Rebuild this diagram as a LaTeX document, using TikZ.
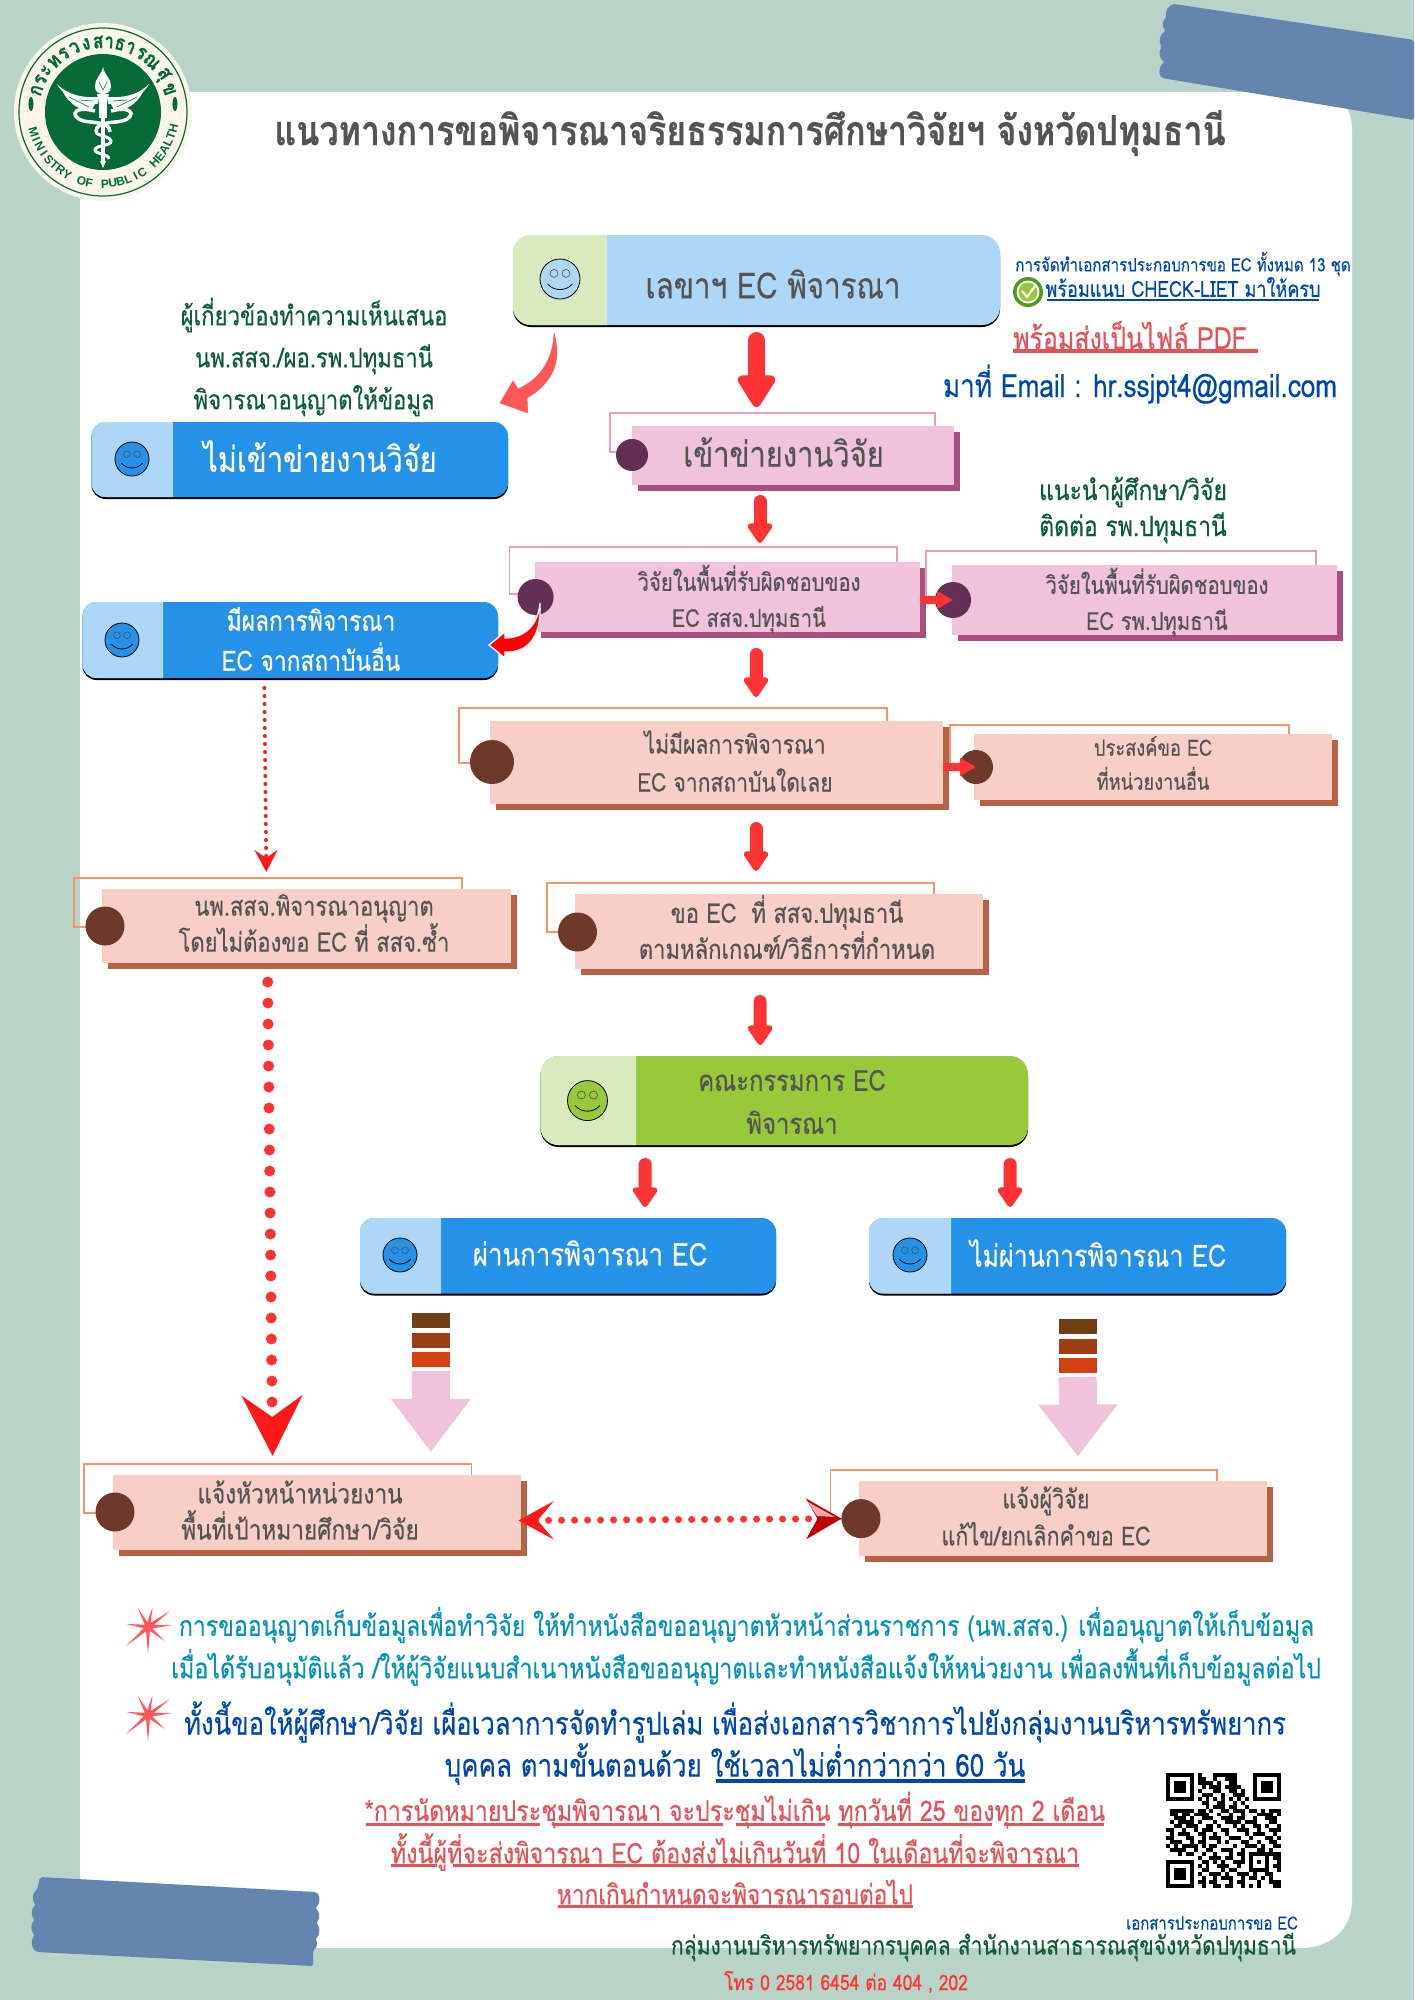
\documentclass[tikz,border=0pt]{standalone}
\usepackage{fontspec}
\usetikzlibrary{arrows.meta}
\setmainfont[Script=Thai, FakeStretch=0.82, FakeBold=0.35]{Loma}
\newfontfamily\logolatin{Liberation Sans}
\newcommand{\fs}[2]{\fontsize{#1}{#2}\selectfont}
\definecolor{pagegreen}{HTML}{B8D4C8}
\definecolor{tapeblue}{HTML}{6485B0}
\definecolor{inkgray}{HTML}{545454}
\definecolor{inkgreen}{HTML}{0E5C38}
\definecolor{inkblue}{HTML}{0047AB}
\definecolor{inkteal}{HTML}{0693B5}
\definecolor{inkred}{HTML}{E2535A}
\definecolor{arrowred}{HTML}{FF3333}
\definecolor{dartred}{HTML}{FF1A1A}
\definecolor{salmonarrow}{HTML}{FF5757}
\definecolor{logogreen}{HTML}{056A38}
\definecolor{logocream}{HTML}{FBF6E9}
\definecolor{tabblue}{HTML}{2592E9}
\definecolor{tabsky}{HTML}{AED6F7}
\definecolor{tablime}{HTML}{98C93A}
\definecolor{tabpale}{HTML}{D9EABF}
\definecolor{cream}{HTML}{FFFDF0}
\definecolor{pinkface}{HTML}{F0C2DC}
\definecolor{pinkedge}{HTML}{E99CC0}
\definecolor{pinkshade}{HTML}{AA5080}
\definecolor{pinkdot}{HTML}{642F55}
\definecolor{salmonface}{HTML}{F8CFC7}
\definecolor{salmonedge}{HTML}{F4956F}
\definecolor{salmonshade}{HTML}{B86245}
\definecolor{salmondot}{HTML}{6E392B}
\definecolor{stripeA}{HTML}{733E15}
\definecolor{stripeB}{HTML}{9E3E14}
\definecolor{stripeC}{HTML}{D54115}
\definecolor{checkgreen}{HTML}{4C9A1F}
\tikzset{
    stepdot/.style={circle, minimum size=#1, inner sep=0pt, outer sep=0pt},
    flowtext/.style={align=center, inner sep=0pt, text=inkgray},
    whitetext/.style={align=center, inner sep=0pt, text=cream},
    redarrow/.style={draw=arrowred, line width=#1, line cap=round},
    dotlink/.style={draw=#1, line cap=round},
    pinkarrow/.style={draw=pinkface, line width=38pt},
    ruleline/.style={line width=#1}
}
\begin{document}
\begin{tikzpicture}[x=1pt, y=-1pt]
    \useasboundingbox (0, 0) rectangle (1414, 2000);
    \fill[pagegreen] (0, 0) rectangle (1414, 2000);
    \fill[white] (80, 92) -- (1320, 92) .. controls (1342, 92) and (1352, 110) .. (1352, 130)
        -- (1352, 1900) .. controls (1352, 1930) and (1330, 1948) .. (1300, 1948) -- (80, 1948) -- cycle;

    \fill[tapeblue, rounded corners=2pt] (1174, 4) -- (1414, 40) -- (1414, 120) -- (1162, 78)
        to[bend left=50] (1165, 62) to[bend left=50] (1162, 47) to[bend left=50] (1166, 31)
        to[bend left=50] (1167, 17) to[bend left=50] (1174, 4);
    \fill[tapeblue, rounded corners=2pt] (40, 1877) -- (316, 1892)
        to[bend left=50] (315, 1908) to[bend left=50] (316, 1923) to[bend left=50] (315, 1939)
        to[bend left=50] (313, 1950) -- (313, 1966) -- (37, 1952)
        to[bend left=50] (35, 1935) to[bend left=50] (35, 1920) to[bend left=50] (36, 1905)
        to[bend left=50] (37, 1890) -- cycle;

    \node[circle, fill=logocream, minimum size=178pt, inner sep=0pt] (logo) at (103, 112) {};
    \draw[logogreen, line width=1.2pt] (logo.center) circle [radius=84];
    \fill[logogreen] (logo.center) circle [radius=58];
    \foreach \ang/\ch in {162/ก,153/ร,144/ะ,134/ท,124/ร,114/ว,104/ง,94/ส,85/า,76/ธ,67/า,57/ร,46/ณ,32/สุ,19/ข} {
        \path (logo.center) ++(\ang:70pt) node[rotate=\ang-90, text=logogreen, inner sep=0pt, font=\fs{21}{21}\bfseries] (thai\ang) {\ch};
    }
    \foreach \ch [count=\i] in {M,I,N,I,S,T,R,Y,{},O,F,{},P,U,B,L,I,C,{},H,E,A,L,T,H} {
        \pgfmathsetmacro{\ang}{196+(\i-1)*6.3}
        \path (logo.center) ++(\ang:72pt) node[rotate=\ang+90, text=logogreen, inner sep=0pt, font=\logolatin\fs{12}{12}\bfseries] (eng\i) {\ch};
    }
    \foreach \s in {-1, 1} {
        \begin{scope}[shift={(103, 112)}, xscale=\s]
            \fill[logogreen] (72, -8) ellipse [x radius=2.5, y radius=7];
            \fill[white] (46, -28) .. controls (38, -14) and (26, -9) .. (5, -8) -- (5, -15)
                .. controls (18, -14) and (34, -16) .. (46, -28) -- cycle;
            \fill[white] (40, -20) .. controls (34, -8) and (22, -1) .. (12, -1) -- (8, -8) -- cycle;
            \draw[logogreen, line width=.6pt] (34, -15) -- (14, -5) (24, -12) -- (10, -11);
            \draw[white, line width=3.5pt] (8, -1) .. controls (34, -8) and (34, 9) .. (12, 10)
                .. controls (0, 11) and (-8, 14) .. (-7, 20);
        \end{scope}
    }
    \begin{scope}[shift={(103, 112)}]
        \fill[white] (0, -45) .. controls (1, -38) and (9, -32) .. (8, -25)
            .. controls (8, -20) and (4, -18) .. (0, -18) .. controls (-4, -18) and (-8, -20) .. (-8, -25)
            .. controls (-9, -32) and (-1, -38) .. (0, -45) -- cycle;
        \fill[white] (-6, -18) -- (6, -18) -- (3.5, -8) -- (-3.5, -8) -- cycle;
        \fill[white] (-4, -8) rectangle (4, 6);
        \fill[white] (-2, 6) rectangle (2, 50);
        \fill[white] (0, 56) -- (-3, 49) -- (3, 49) -- cycle;
        \draw[white, line width=3pt] (-7, 20) .. controls (-6, 24) and (7, 24) .. (8, 29)
            .. controls (9, 34) and (-8, 33) .. (-8, 38) .. controls (-8, 42) and (6, 42) .. (6, 47);
        \draw[logogreen, line width=.6pt] (-4, -30) -- (0, -22) -- (4, -30);
    \end{scope}

    \node[text=inkgray, inner sep=0pt, font=\fs{41.4}{42}\bfseries] (title) at (750, 133) {แนวทางการขอพิจารณาจริยธรรมการศึกษาวิจัยฯ จังหวัดปทุมธานี};

    \foreach \nm/\lc/\rc/\bl/\bt/\br/\bb/\dv/\rad/\cx/\cy/\cr in {
        secretary/tabpale/tabsky/513/235/1000/325/607/18/560/279/20,
        outside/tabsky/tabblue/91.5/422/508/497/173/14/132/459/17,
        hasresult/tabsky/tabblue/82.5/602/498/678/163/14/122/640/17,
        board/tabpale/tablime/540.5/1056/1028/1145/636/18/587.5/1100.6/20,
        pass/tabsky/tabblue/360/1218/776/1293.5/441/14/400/1255/17,
        fail/tabsky/tabblue/869/1218/1286/1293.5/951/14/910/1255/17} {
        \pgfmathsetmacro{\bw}{\br-\bl}
        \pgfmathsetmacro{\bh}{\bb-\bt}
        \fill[black, rounded corners=\rad pt] (\bl, \bt+2) rectangle (\br, \bb+2);
        \node[fill=\rc, rounded corners=\rad pt, minimum width=\bw pt, minimum height=\bh pt, inner sep=0pt, outer sep=0pt] (\nm) at ({(\bl+\br)/2}, {(\bt+\bb)/2}) {};
        \begin{scope}
            \clip (\bl, \bt) rectangle (\dv, \bb);
            \fill[\lc, rounded corners=\rad pt] (\bl, \bt) rectangle (\dv+40, \bb);
        \end{scope}
        \node[circle, fill=\rc, draw=black, line width=.8pt, minimum size=2*\cr pt, inner sep=0pt] (\nm face) at (\cx, \cy) {};
        \begin{scope}[shift={(\cx, \cy)}]
            \draw[black!70, fill=\rc, line width=.6pt] ({-.3*\cr}, {-.28*\cr}) circle [radius=.2*\cr];
            \draw[black!70, fill=\rc, line width=.6pt] ({.3*\cr}, {-.28*\cr}) circle [radius=.2*\cr];
            \draw[black, line width=.8pt] ({-.62*\cr}, {.25*\cr}) .. controls ({-.3*\cr}, {.62*\cr}) and ({.3*\cr}, {.62*\cr}) .. ({.62*\cr}, {.25*\cr});
        \end{scope}
    }

    \foreach \nm/\pal/\bl/\bt/\br/\bb/\fl/\ft/\fr/\fb/\cx/\cy/\cr in {
        inside/pink/632/426/954/485/610/413/935/452/632/455/16,
        ssjarea/pink/535/562/920/632/509.5/547/897/594/535.6/597/18,
        hosparea/pink/952/565/1337/635/926/551/1316/597/953/600/18,
        noresult/salmon/490/721/943/804/459/708/887/763/492/762/22,
        otherunit/salmon/974/734/1332/800/950/725/1289/767/976/767/17,
        approve/salmon/102/889/511/963/74/878/462/927/105/926/19.5,
        apply/salmon/575/894/983/969/547/883/934/932/577.5/932/19.5,
        headnotice/salmon/112.7/1475/521/1550/84/1464/471.6/1513/115/1512/19.5,
        fixnotice/salmon/859/1481/1267/1556/830.5/1470/1217/1519/861/1518.6/19.5} {
        \pgfmathsetmacro{\bw}{\br-\bl}
        \pgfmathsetmacro{\bh}{\bb-\bt}
        \draw[\pal edge, line width=1.2pt] (\fl, \ft) rectangle (\fr, \fb);
        \fill[\pal shade] (\bl+6, \bt+6) rectangle (\br+6, \bb+6);
        \node[fill=\pal face, minimum width=\bw pt, minimum height=\bh pt, inner sep=0pt, outer sep=0pt] (\nm) at ({(\bl+\br)/2}, {(\bt+\bb)/2}) {};
        \node[stepdot=2*\cr pt, fill=\pal dot] (\nm dot) at (\cx, \cy) {};
    }

    \node[flowtext, font=\fs{36}{36}] (secretarytext) at (773, 284) {เลขาฯ EC พิจารณา};
    \node[inner sep=0pt, text=inkgreen, align=center, font=\fs{27}{42}] (advicetext) at (314, 357) {ผู้เกี่ยวข้องทำความเห็นเสนอ\\นพ.สสจ./ผอ.รพ.ปทุมธานี\\พิจารณาอนุญาตให้ข้อมูล};
    \node[whitetext, font=\fs{35.4}{36}] (outsidetext) at (320, 456) {ไม่เข้าข่ายงานวิจัย};
    \node[flowtext, font=\fs{35.5}{36}] (insidetext) at (783.5, 452) {เข้าข่ายงานวิจัย};
    \node[inner sep=0pt, text=inkgreen, align=center, font=\fs{28}{36}] (contacttext) at (1133, 510) {แนะนำผู้ศึกษา/วิจัย\\ติดต่อ รพ.ปทุมธานี};
    \node[flowtext, font=\fs{24.7}{36}] (ssjareatext) at (749, 599) {วิจัยในพื้นที่รับผิดชอบของ\\EC สสจ.ปทุมธานี};
    \node[flowtext, font=\fs{24.7}{36}] (hospareatext) at (1157, 602) {วิจัยในพื้นที่รับผิดชอบของ\\EC รพ.ปทุมธานี};
    \node[whitetext, font=\fs{27.8}{40}] (hasresulttext) at (311, 639) {มีผลการพิจารณา\\EC จากสถาบันอื่น};
    \node[flowtext, font=\fs{25.8}{38}] (noresulttext) at (735, 761) {ไม่มีผลการพิจารณา\\EC จากสถาบันใดเลย};
    \node[flowtext, font=\fs{22.3}{34}] (otherunittext) at (1153, 763) {ประสงค์ขอ EC\\ที่หน่วยงานอื่น};
    \node[flowtext, font=\fs{26.8}{36}] (approvetext) at (314, 923) {นพ.สสจ.พิจารณาอนุญาต\\โดยไม่ต้องขอ EC ที่ สสจ.ซ้ำ};
    \node[flowtext, font=\fs{26.9}{36}] (applytext) at (787, 927) {ขอ EC ~ที่ สสจ.ปทุมธานี\\ตามหลักเกณฑ์/วิธีการที่กำหนด};
    \node[flowtext, font=\fs{29}{43}] (boardtext) at (792, 1102) {คณะกรรมการ EC\\พิจารณา};
    \node[whitetext, font=\fs{31.5}{32}] (passtext) at (590, 1253) {ผ่านการพิจารณา EC};
    \node[whitetext, font=\fs{30.5}{32}] (failtext) at (1098, 1253) {ไม่ผ่านการพิจารณา EC};
    \node[flowtext, font=\fs{27.6}{36}] (headnoticetext) at (300, 1510) {แจ้งหัวหน้าหน่วยงาน\\พื้นที่เป้าหมายศึกษา/วิจัย};
    \node[flowtext, font=\fs{26.3}{37}] (fixnoticetext) at (1046, 1516) {แจ้งผู้วิจัย\\แก้ไข/ยกเลิกคำขอ EC};

    \node[inner sep=0pt, text=inkblue, font=\fs{18.4}{19}] (sheettext) at (1183, 264) {การจัดทำเอกสารประกอบการขอ EC ทั้งหมด 13 ชุด};
    \node[circle, fill=checkgreen, minimum size=30pt, inner sep=0pt] (checkmark) at (1028, 292) {};
    \fill[white] (checkmark.center) circle [radius=11.5];
    \fill[tablime] (checkmark.center) circle [radius=9.5];
    \draw[white, line width=2pt] (1022, 291) -- (1027, 297) -- (1035, 286);
    \node[inner sep=0pt, text=inkblue, font=\fs{22}{22}] (checklisttext) at (1183, 287) {พร้อมแนบ CHECK-LIET มาให้ครบ};
    \draw[inkblue, ruleline=2pt] (1047, 300) -- (1319, 300);
    \node[inner sep=0pt, text=inkred, font=\fs{30.4}{31}] (pdftext) at (1130, 335) {พร้อมส่งเป็นไฟล์ PDF};
    \draw[inkred, ruleline=3.5pt] (1013, 351) -- (1258, 351);
    \node[inner sep=0pt, text=inkblue, font=\fs{31.8}{32}] (emailtext) at (1140, 384) {มาที่ Email : hr.ssjpt4@gmail.com};

    \draw[redarrow=17pt, -{Triangle[length=36pt, width=42pt, round]}, shorten <=15.5pt, shorten >=19pt] (secretary.south) -- ([shift={(-36.5, 0)}]inside.north);
    \draw[redarrow=13pt, -{Triangle[length=22pt, width=28pt, round]}, shorten <=16.5pt, shorten >=19pt] ([shift={(-33, 0)}]inside.south) -- ([shift={(32.5, 0)}]ssjarea.north);
    \draw[redarrow=13pt, -{Triangle[length=22pt, width=28pt, round]}, shorten <=22.5pt, shorten >=24pt] ([shift={(28.5, 0)}]ssjarea.south) -- ([shift={(39.5, 0)}]noresult.north);
    \draw[redarrow=13pt, -{Triangle[length=22pt, width=28pt, round]}, shorten <=24.5pt, shorten >=23pt] ([shift={(39.5, 0)}]noresult.south) -- ([shift={(-23, 0)}]apply.north);
    \draw[redarrow=13pt, -{Triangle[length=22pt, width=28pt, round]}, shorten <=32.5pt, shorten >=11pt] ([shift={(-19, 0)}]apply.south) -- ([shift={(-24, 0)}]board.north);
    \draw[redarrow=13pt, -{Triangle[length=22pt, width=28pt, round]}, shorten <=19.5pt, shorten >=11pt] ([shift={(-139, 0)}]board.south) -- ([shift={(77, 0)}]pass.north);
    \draw[redarrow=13pt, -{Triangle[length=22pt, width=28pt, round]}, shorten <=19.5pt, shorten >=11pt] ([shift={(226, 0)}]board.south) -- ([shift={(-67.5, 0)}]fail.north);
    \draw[redarrow=8pt, line cap=butt, -{Triangle[length=16pt, width=17pt]}] (ssjarea.east |- hospareadot) -- (hospareadot.center);
    \draw[redarrow=8pt, line cap=butt, -{Triangle[length=16pt, width=17pt]}] (noresult.east |- otherunitdot) -- (otherunitdot.center);

    \fill[salmonarrow, draw=salmonarrow, line join=round] ([shift={(41, 8)}]secretary.south west)
        .. controls (562, 360) and (554, 382) .. (527, 398) -- (528, 413)
        -- ([shift={(-8, -19)}]outside.north east) -- (513, 381) -- (518, 389)
        .. controls (538, 380) and (553, 362) .. (554, 333) -- cycle;
    \fill[red, draw=white, line width=1.2pt, line join=miter] ([shift={(5, -29)}]ssjarea.south west)
        .. controls (542, 640) and (525, 653) .. (505, 652) -- (505, 658)
        -- ([shift={(-9, 5)}]hasresult.east) -- (505, 632) -- (505, 638)
        .. controls (525, 638) and (538, 625) .. (540, 603) -- cycle;

    \draw[dotlink=dartred, line width=4pt, dash pattern=on 0pt off 8pt, -{Stealth[length=22pt, width=23pt, inset=8pt, color=dartred]}, shorten <=10pt, shorten >=17pt] ([shift={(-26, 0)}]hasresult.south) -- ([shift={(-40, 0)}]approve.north);
    \draw[dotlink=arrowred, line width=11pt, dash pattern=on 0pt off 21pt, -{Stealth[length=60pt, width=60pt, inset=21pt, color=dartred]}, shorten <=19pt, shorten >=19pt] ([shift={(-39, 0)}]approve.south) -- ([shift={(-44, 0)}]headnotice.north);
    \draw[dotlink=arrowred, line width=7pt, dash pattern=on 0pt off 13pt, {Stealth[length=35pt, width=38pt, inset=16pt, color=dartred]}-{Stealth[length=35pt, width=40pt, inset=11pt, color=red!75!black]}] ([shift={(-2.5, 8)}]headnotice.east) -- (fixnoticedot.west);
    \fill[red!35] (817, 1516) -- (808, 1502) -- (835, 1517) -- cycle;

    \foreach \ya/\xa in {1313/431, 1319/1078} {
        \fill[stripeA] (\xa-19, \ya) rectangle (\xa+19, \ya+15);
        \fill[stripeB] (\xa-19, \ya+19.5) rectangle (\xa+19, \ya+35);
        \fill[stripeC] (\xa-19, \ya+39) rectangle (\xa+19, \ya+54);
    }
    \draw[pinkarrow, -{Triangle[length=53pt, width=76pt]}, shorten <=77.5pt, shorten >=23pt] ([shift={(-137, 0)}]pass.south) -- ([shift={(114, 0)}]headnotice.north);
    \draw[pinkarrow, -{Triangle[length=52pt, width=76pt]}, shorten <=83.5pt, shorten >=24.5pt] (fail.south) -- ([shift={(15, 0)}]fixnotice.north);

    \foreach \cy in {1627, 1715} {
        \begin{scope}[shift={(148, \cy)}]
            \foreach \ang/\len in {77/20, 36/27, 5/24, -40/22, -90/27, -139/29, 172/22, 118/22} {
                \fill[salmonarrow] (\ang+90:2.2pt) -- (\ang:\len pt) -- (\ang-90:2.2pt) -- cycle;
            }
        \end{scope}
    }
    \node[inner sep=0pt, text=inkteal, font=\fs{28.1}{29}] (noteA) at (746.5, 1625) {การขออนุญาตเก็บข้อมูลเพื่อทำวิจัย ให้ทำหนังสือขออนุญาตหัวหน้าส่วนราชการ (นพ.สสจ.) เพื่ออนุญาตให้เก็บข้อมูล};
    \node[inner sep=0pt, text=inkteal, font=\fs{28.3}{29}] (noteB) at (746, 1667) {เมื่อได้รับอนุมัติแล้ว /ให้ผู้วิจัยแนบสำเนาหนังสือขออนุญาตและทำหนังสือแจ้งให้หน่วยงาน เพื่อลงพื้นที่เก็บข้อมูลต่อไป};
    \node[inner sep=0pt, text=inkblue, font=\fs{31.3}{32}] (noteC) at (735, 1722) {ทั้งนี้ขอให้ผู้ศึกษา/วิจัย เผื่อเวลาการจัดทำรูปเล่ม เพื่อส่งเอกสารวิชาการไปยังกลุ่มงานบริหารทรัพยากร};
    \node[inner sep=0pt, text=inkblue, font=\fs{31.7}{32}] (noteD) at (735, 1764) {บุคคล ตามขั้นตอนด้วย ใช้เวลาไม่ต่ำกว่ากว่า 60 วัน};
    \draw[inkblue, ruleline=4pt] (716, 1781) -- (1025, 1781);
    \node[inner sep=0pt, text=inkred, font=\fs{28.3}{29}] (noteE) at (735, 1810) {*การนัดหมายประชุมพิจารณา จะประชุมไม่เกิน ทุกวันที่ 25 ของทุก 2 เดือน};
    \draw[inkred, ruleline=3pt] (366, 1824) -- (540, 1824) (553, 1824) -- (723, 1824) (736, 1824) -- (825, 1824) (838, 1824) -- (992, 1824) (1004, 1824) -- (1104, 1824);
    \node[inner sep=0pt, text=inkred, font=\fs{28.4}{29}] (noteF) at (735, 1852) {ทั้งนี้ผู้ที่จะส่งพิจารณา EC ต้องส่งไม่เกินวันที่ 10 ในเดือนที่จะพิจารณา};
    \draw[inkred, ruleline=3pt] (391, 1865) -- (437, 1865) (453, 1865) -- (1079, 1865);
    \node[inner sep=0pt, text=inkred, font=\fs{27.6}{28}] (noteG) at (735, 1892) {หากเกินกำหนดจะพิจารณารอบต่อไป};
    \draw[inkred, ruleline=3pt] (558, 1906) -- (913, 1906);

    \foreach \row [count=\y from 0] in {
        {0/7,8/1,12/6,22/7},{0/1,6/1,8/2,12/1,15/3,22/1,28/1},{0/1,2/3,6/1,8/4,13/1,16/2,22/1,24/3,28/1},
        {0/1,2/3,6/1,9/1,11/3,15/4,22/1,24/3,28/1},{0/1,2/3,6/1,8/1,12/2,16/2,19/1,22/1,24/3,28/1},
        {0/1,6/1,9/3,14/1,17/3,22/1,28/1},{0/7,8/1,10/1,12/1,14/1,16/1,18/1,20/1,22/7},{9/2,13/2,17/1,19/1},
        {10/1,12/3,16/2,20/1},{1/6,8/2,11/1,14/2,17/3,21/2,24/1,26/3},{1/2,4/2,7/4,13/1,16/1,19/1,23/4,28/1},
        {2/3,6/1,9/3,14/3,18/2,22/1,25/3},{1/1,3/4,8/1,12/1,15/4,20/3,26/2},{2/2,5/3,10/2,13/1,17/1,19/1,22/2,25/1,28/1},
        {0/2,4/1,7/1,9/3,14/2,18/3,23/1,26/3},{1/1,3/3,8/2,12/1,15/1,20/1,22/3,27/1},{0/2,5/2,9/1,11/3,16/3,21/1,25/2,28/1},
        {1/3,6/1,8/2,13/1,15/1,19/2,23/1,26/2},{0/1,2/1,4/4,9/1,11/2,17/1,20/3,24/1,27/2},{1/4,7/1,10/2,14/3,19/1,23/2,26/1},
        {3/1,5/2,9/1,12/1,16/1,18/2,21/8},{8/1,11/3,15/2,19/1,21/1,25/1,27/2},{0/7,9/2,12/1,14/1,17/3,21/1,23/1,25/1,28/1},
        {0/1,6/1,8/1,10/1,13/3,18/1,21/1,25/1,27/2},{0/1,2/3,6/1,9/2,14/1,16/2,21/5,28/1},{0/1,2/3,6/1,8/1,11/3,15/1,18/3,22/1,25/2},
        {0/1,2/3,6/1,9/1,12/1,14/3,19/1,21/2,24/1,26/1},{0/1,6/1,8/2,11/2,16/1,18/2,23/1,26/3},{0/7,9/1,12/2,15/2,19/1,21/1,23/1,27/2}} {
        \foreach \a/\n in \row {
            \fill[black] (1166+\a*3.95, 1773+\y*3.95) rectangle (1166+\a*3.95+\n*3.95, 1773+\y*3.95+3.95);
        }
    }
    \node[inner sep=0pt, text=inkblue, font=\fs{18.2}{19}] (formtext) at (1212, 1923) {เอกสารประกอบการขอ EC};
    \node[inner sep=0pt, text=inkgreen, font=\fs{25.7}{26}] (unittext) at (983.5, 1947) {กลุ่มงานบริหารทรัพยากรบุคคล สำนักงานสาธารณสุขจังหวัดปทุมธานี};
    \node[inner sep=0pt, text=arrowred, font=\fs{21.3}{22}] (phonetext) at (846, 1982) {โทร 0 2581 6454 ต่อ 404 , 202};
\end{tikzpicture}
\end{document}
